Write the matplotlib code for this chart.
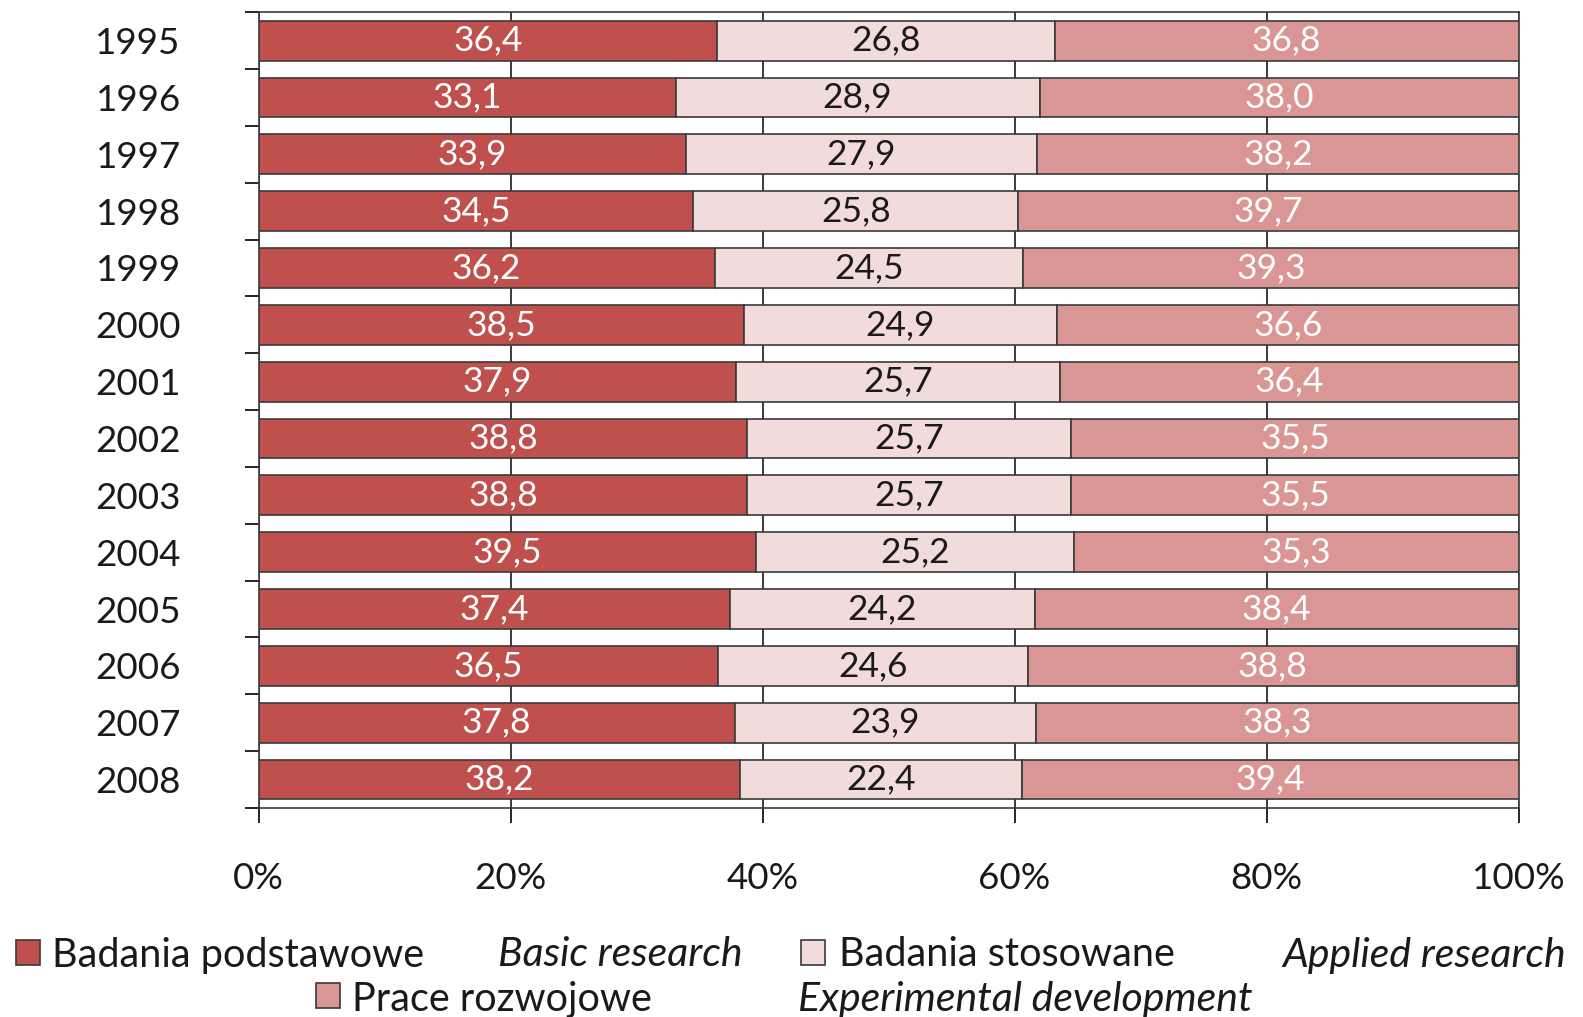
import matplotlib.pyplot as plt
from matplotlib.patches import Rectangle
import numpy as np

plt.rcParams['font.family'] = ['Lato', 'DejaVu Sans']

years = ['1995', '1996', '1997', '1998', '1999', '2000', '2001',
         '2002', '2003', '2004', '2005', '2006', '2007', '2008']
basic = [36.4, 33.1, 33.9, 34.5, 36.2, 38.5, 37.9, 38.8, 38.8, 39.5, 37.4, 36.5, 37.8, 38.2]
applied = [26.8, 28.9, 27.9, 25.8, 24.5, 24.9, 25.7, 25.7, 25.7, 25.2, 24.2, 24.6, 23.9, 22.4]
experimental = [36.8, 38.0, 38.2, 39.7, 39.3, 36.6, 36.4, 35.5, 35.5, 35.3, 38.4, 38.8, 38.3, 39.4]

series = [basic, applied, experimental]
colors = ['#C0504D', '#F2DCDB', '#D99694']
text_colors = ['white', '#1a1a1a', 'white']
x_ticks = [0, 20, 40, 60, 80, 100]

fig = plt.figure(figsize=(15.83, 10.17), dpi=100)
ax = fig.add_axes([0.1633, 0.2055, 0.796, 0.7825])

y = np.arange(len(years))
left = np.zeros(len(years))
for vals, col, tcol in zip(series, colors, text_colors):
    bars = ax.barh(y, vals, left=left, height=0.7, color=col,
                   edgecolor='#3a3a3a', linewidth=1.2, zorder=3)
    ax.bar_label(bars, labels=[f"{v:.1f}".replace('.', ',') for v in vals],
                 label_type='center', color=tcol, fontsize=25.5)
    left += np.array(vals)

ax.set_xlim(0, 100)
ax.set_ylim(len(years) - 0.5, -0.5)

ax.set_xticks(x_ticks)
ax.set_xticklabels([f"{t}%" for t in x_ticks], fontsize=26.5, color='#1a1a1a')
ax.tick_params(axis='x', direction='out', length=11, width=1.2, pad=28)

ax.set_yticks(y)
ax.set_yticklabels(years, fontsize=26.5, color='#1a1a1a')
ax.set_yticks(np.arange(-0.5, len(years)), minor=True)
ax.tick_params(axis='y', which='major', length=0, pad=56)
ax.tick_params(axis='y', which='minor', direction='out', length=10, width=1.2)

ax.grid(axis='x', color='#1a1a1a', linewidth=1.2, zorder=0)
for s in ax.spines.values():
    s.set_color('#3a3a3a')
    s.set_linewidth(1.2)

# --- Legend (manual, two rows) ---
W, H = 1583, 1017
def box(x0, y0, col):
    fig.patches.append(Rectangle((x0 / W, 1 - (y0 + 25) / H), 24 / W, 25 / H,
                                 transform=fig.transFigure, facecolor=col,
                                 edgecolor='#3a3a3a', linewidth=1.2))

def label(x0, yc, txt, italic=False):
    fig.text(x0 / W, 1 - yc / H, txt, fontsize=29.5 if italic else 28.5,
             va='center', ha='left',
             style='italic' if italic else 'normal', color='#1a1a1a')

box(16, 940, colors[0])
label(52, 955, 'Badania podstawowe')
label(498, 955, 'Basic research', italic=True)
box(801, 940, colors[1])
label(839, 955, 'Badania stosowane')
label(1282, 955, 'Applied research', italic=True)
box(316, 983, colors[2])
label(352, 999, 'Prace rozwojowe')
label(798, 999, 'Experimental development', italic=True)

plt.savefig('out.png', dpi=100)
